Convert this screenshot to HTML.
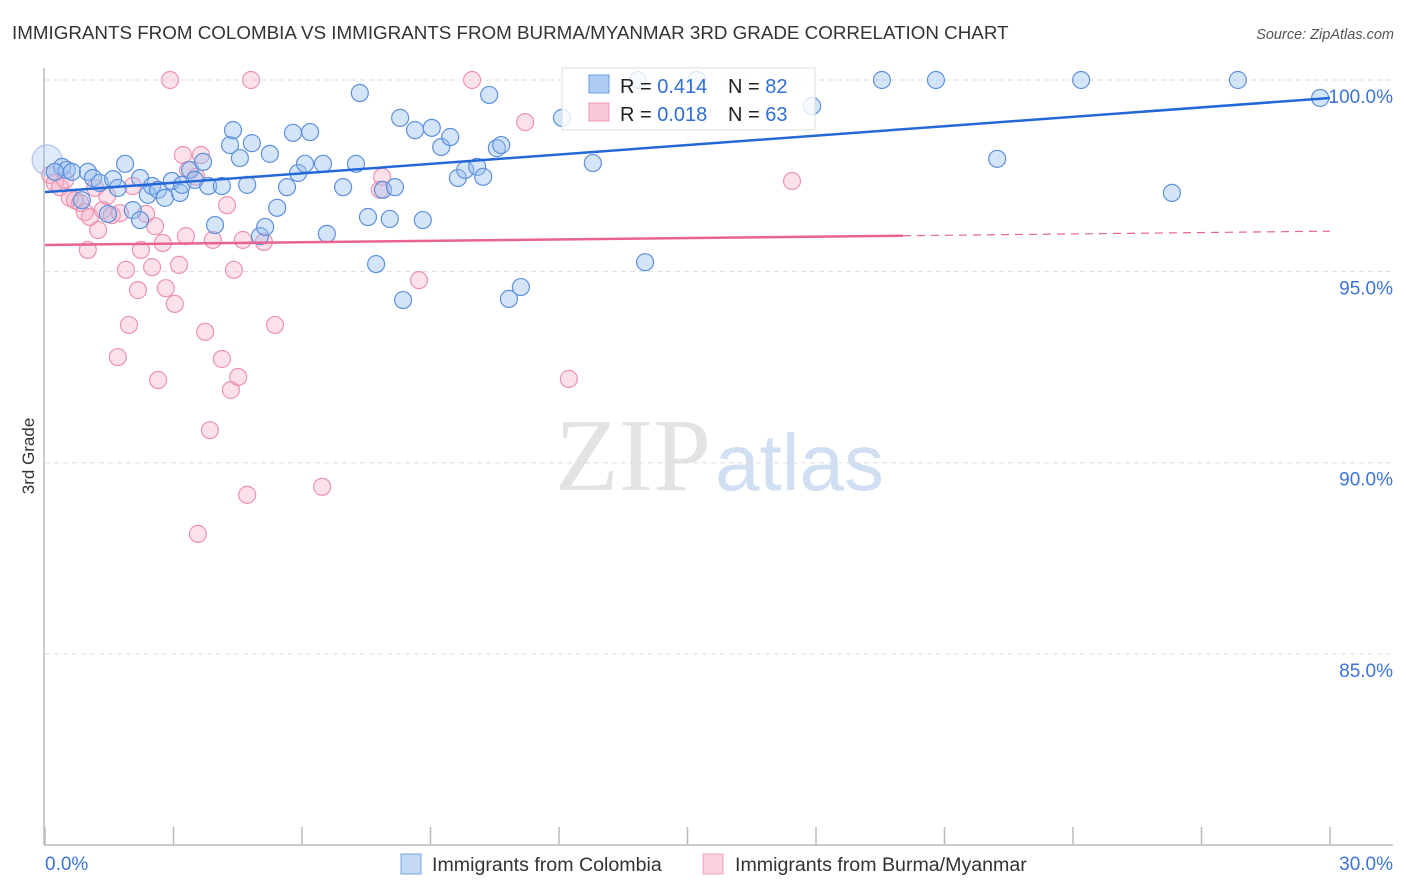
<!DOCTYPE html>
<html><head><meta charset="utf-8"><style>
body{margin:0;background:#fff;font-family:"Liberation Sans",sans-serif}
svg{display:block}
</style></head><body>
<svg id="chart" width="1406" height="892" xmlns="http://www.w3.org/2000/svg">
<text x="12" y="39" font-size="18.8" fill="#333" font-family="Liberation Sans, sans-serif">IMMIGRANTS FROM COLOMBIA VS IMMIGRANTS FROM BURMA/MYANMAR 3RD GRADE CORRELATION CHART</text>
<text x="1394" y="39" font-size="14.5" fill="#555" font-style="italic" text-anchor="end">Source: ZipAtlas.com</text>
<text x="555" y="490" font-size="104" font-family="Liberation Serif, serif" fill="#ddd" opacity="0.8">ZIP<tspan fill="#c5d8ef" font-family="Liberation Sans, sans-serif" font-size="80" dx="4">atlas</tspan></text>
<g id="grid"></g>
<g id="axes"></g>
<g id="pts"></g>
<g id="lines"></g>
<text transform="translate(34,456) rotate(-90)" font-size="17" fill="#333" text-anchor="middle">3rd Grade</text>
<g>
<rect x="562" y="68" width="253" height="62" fill="#fff" fill-opacity="0.8" stroke="#ddd"/>
<rect x="589" y="75" width="20" height="18" fill="#aecbf2" stroke="#6a9be0"/>
<rect x="589" y="103" width="20" height="18" fill="#f9c8d6" stroke="#ec9ab3"/>
<text x="620" y="93" font-size="20" fill="#222">R = <tspan fill="#2f6fd6">0.414</tspan></text>
<text x="728" y="93" font-size="20" fill="#222">N = <tspan fill="#2f6fd6">82</tspan></text>
<text x="620" y="121" font-size="20" fill="#222">R = <tspan fill="#2f6fd6">0.018</tspan></text>
<text x="728" y="121" font-size="20" fill="#222">N = <tspan fill="#2f6fd6">63</tspan></text>
</g>
<g>
<rect x="401" y="854" width="20" height="20" fill="#c3d8f5" stroke="#7aa6e3"/>
<text x="432" y="871" font-size="19.6" fill="#333">Immigrants from Colombia</text>
<rect x="703" y="854" width="20" height="20" fill="#fad2de" stroke="#eea0b8"/>
<text x="735" y="871" font-size="19.6" fill="#333">Immigrants from Burma/Myanmar</text>
</g>
</svg>
<script>
const yTicks=[100,95,90,85];
const yTickLabels=["100.0%","95.0%","90.0%","85.0%"];
const xTickLabels=["0.0%","30.0%"];
const blueX=[0.05,0.40,0.51,0.23,0.63,1.00,1.12,1.28,0.86,1.47,1.59,1.70,1.87,2.05,2.22,2.22,2.40,2.50,2.64,2.80,2.96,3.15,3.20,3.39,3.50,3.69,3.81,3.97,4.13,4.32,4.39,4.55,4.72,4.83,5.02,5.14,5.25,5.42,5.65,5.79,5.91,6.07,6.19,6.49,6.58,6.96,7.26,7.35,7.54,7.73,7.89,8.05,8.17,8.29,8.36,8.64,8.82,9.03,9.25,9.46,9.64,9.81,10.09,10.23,10.37,10.55,10.65,10.83,11.11,12.07,12.79,14.01,15.22,17.91,19.54,20.80,22.23,24.19,26.31,27.85,29.77,13.84];
const blueY=[97.91,97.73,97.65,97.60,97.60,97.60,97.44,97.31,96.86,96.50,97.41,97.18,97.81,96.60,97.44,96.34,97.00,97.23,97.13,96.92,97.36,97.05,97.26,97.65,97.39,97.86,97.23,96.21,97.23,98.30,98.69,97.96,97.26,98.35,95.92,96.16,98.07,96.66,97.20,98.62,97.57,97.81,98.64,97.81,95.98,97.20,97.81,99.66,96.42,95.19,97.13,96.37,97.20,99.01,94.25,98.69,96.34,98.75,98.25,98.51,97.44,97.65,97.73,97.47,99.61,98.22,98.30,94.28,94.59,99.01,97.83,95.24,100.0,99.32,100.0,100.0,97.94,100.0,97.05,100.0,99.53,100.0];
const pinkX=[0.12,0.23,0.35,0.47,0.58,0.70,0.82,0.93,1.00,1.05,1.17,1.24,1.35,1.45,1.56,1.70,1.75,1.89,1.96,2.05,2.17,2.24,2.36,2.50,2.57,2.64,2.75,2.82,2.92,3.03,3.13,3.22,3.29,3.34,3.53,3.64,3.74,3.85,3.92,4.13,4.25,4.34,4.41,4.51,4.62,4.72,4.81,5.11,5.37,6.47,3.57,7.87,7.82,8.73,9.97,11.21,12.23,17.44];
const pinkY=[97.52,97.31,97.20,97.39,96.92,96.86,96.79,96.55,95.56,96.42,97.18,96.08,96.60,96.97,96.47,92.76,96.52,95.04,93.60,97.23,94.51,95.56,96.50,95.11,96.18,92.16,95.74,94.56,100.0,94.15,95.17,98.04,95.92,97.65,97.47,98.04,93.42,90.85,95.82,92.71,96.73,91.90,95.04,92.24,95.82,89.16,100.0,95.77,93.60,89.37,88.14,97.47,97.13,94.77,100.0,98.90,92.19,97.36];
const blueTrend=[97.07,99.53];
const pinkTrend=[95.69,96.05];
const pinkSolidEnd=20.03;

const NS="http://www.w3.org/2000/svg";
function sx(v){return 45+v/30*1285;}
function sy(v){return 80+(100-v)*38.27;}
function mk(tag,attrs,parent){const e=document.createElementNS(NS,tag);for(const k in attrs)e.setAttribute(k,attrs[k]);parent.appendChild(e);return e;}
const grid=document.getElementById('grid'),axes=document.getElementById('axes'),pts=document.getElementById('pts'),lines=document.getElementById('lines');
yTicks.forEach((t,i)=>{
  const l=mk('line',{x1:45,x2:1393,y1:sy(t),y2:sy(t),stroke:'#ddd','stroke-dasharray':'5,4'},grid);
  
  
  const tx=mk('text',{x:1393,y:sy(t)+23,'font-size':19,fill:'#3d74d6','text-anchor':'end'},grid);
  tx.textContent=yTickLabels[i];
  
  
});
let a=mk('line',{x1:44,x2:44,y1:68,y2:845,stroke:'#bbb','stroke-width':1.5},axes);


a=mk('line',{x1:44,x2:1393,y1:845,y2:845,stroke:'#bbb','stroke-width':1.5},axes);


for(let i=0;i<=10;i++){
  const t=mk('line',{x1:sx(i*3),x2:sx(i*3),y1:827,y2:845,stroke:'#bbb','stroke-width':1.5},axes);
  
  
}
let xl=mk('text',{x:45,y:870,'font-size':19,fill:'#3d74d6'},axes);xl.textContent=xTickLabels[0];


xl=mk('text',{x:1393,y:870,'font-size':19,fill:'#3d74d6','text-anchor':'end'},axes);xl.textContent=xTickLabels[1];


pinkX.forEach((x,i)=>{
  const c=mk('circle',{cx:sx(x),cy:sy(pinkY[i]),r:8.5,fill:'rgba(245,170,195,0.35)',stroke:'#eb93b0','stroke-width':1.2},pts);
  
  
});
blueX.forEach((x,i)=>{
  const c=mk('circle',{cx:sx(x),cy:sy(blueY[i]),r:i===0?15:8.5,fill:i===0?'rgba(150,190,240,0.3)':'rgba(150,190,240,0.4)',stroke:i===0?'#a9c4ec':'#5e90dc','stroke-width':1.2},pts);
  
  
});
let ln=mk('line',{x1:sx(0),y1:sy(blueTrend[0]),x2:sx(30),y2:sy(blueTrend[1]),stroke:'#2468d8','stroke-width':2.5},lines);


const pm=v=>pinkTrend[0]+(pinkTrend[1]-pinkTrend[0])*v/30;
ln=mk('line',{x1:sx(0),y1:sy(pinkTrend[0]),x2:sx(pinkSolidEnd),y2:sy(pm(pinkSolidEnd)),stroke:'#e8648e','stroke-width':2.5},lines);


ln=mk('line',{x1:sx(pinkSolidEnd),y1:sy(pm(pinkSolidEnd)),x2:sx(30),y2:sy(pinkTrend[1]),stroke:'#e8648e','stroke-width':1.2,'stroke-dasharray':'8,6'},lines);


</script>
</body></html>
